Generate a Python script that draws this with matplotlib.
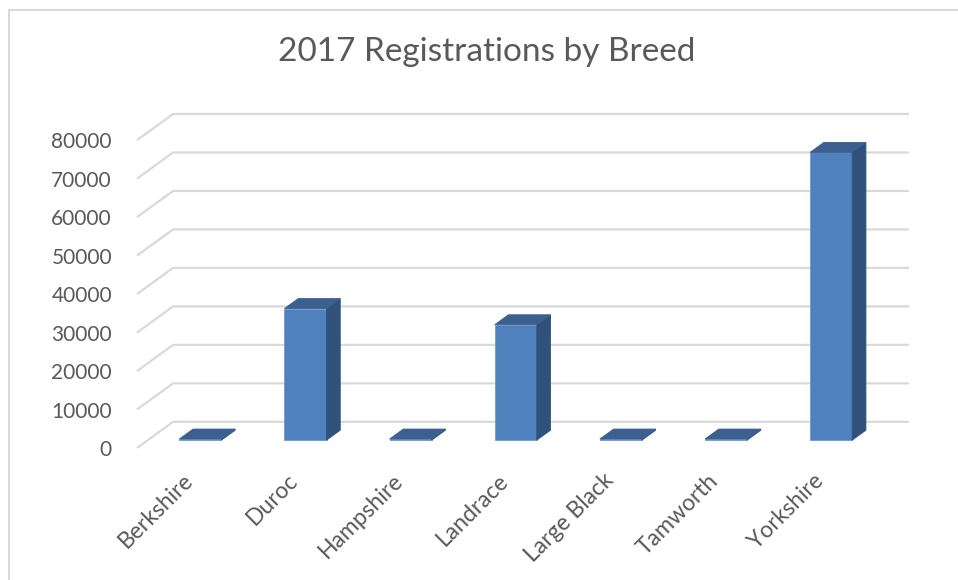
import matplotlib
matplotlib.use("Agg")
import matplotlib.pyplot as plt
from matplotlib.patches import Polygon
from matplotlib.lines import Line2D

# ---- data ----
breeds = ["Berkshire", "Duroc", "Hampshire", "Landrace", "Large Black", "Tamworth", "Yorkshire"]
registrations = [300, 34200, 300, 30000, 300, 300, 74800]
y_ticks = [0, 10000, 20000, 30000, 40000, 50000, 60000, 70000, 80000]
title = "2017 Registrations by Breed"

# ---- style ----
plt.rcParams['font.family'] = ['Lato', 'DejaVu Sans']
text_color = "#595959"
grid_color = "#D9D9D9"
front_color = "#4F81BD"
side_color = "#30527A"
top_color = "#3B5F8E"

fig = plt.figure(figsize=(9.58, 5.8), dpi=100)
fig.patch.set_facecolor("white")

# chart border (light gray, cropped on right/bottom)
fig.add_artist(Line2D([8.5/958, 8.5/958], [0, 1 - 9.5/580], transform=fig.transFigure,
                      color=grid_color, lw=1.5))
fig.add_artist(Line2D([8.5/958, 1], [1 - 9.5/580, 1 - 9.5/580], transform=fig.transFigure,
                      color=grid_color, lw=1.5))

ax = fig.add_axes([137/958, 1 - 448/580, 772/958, 334/580])

# depth vector of the 3D floor (category units, value units)
DX, DY = 0.343, 6800
ax.set_xlim(-0.5, len(breeds) - 0.5 + DX)
ax.set_ylim(0, y_ticks[-1] + DY)

for s in ax.spines.values():
    s.set_visible(False)

# gridlines: slanted left wall edge + back wall horizontal
xmax = len(breeds) - 0.5 + DX
for v in y_ticks:
    ax.plot([-0.5, -0.5 + DX, xmax], [v, v + DY, v + DY], color=grid_color, lw=1.6,
            zorder=1, clip_on=False, solid_capstyle='butt')

# 3D-looking bars
w = 0.40
f0, f1 = 0.30, 0.68
for i, v in enumerate(registrations):
    xl = i - w / 2
    xr = i + w / 2
    front = [(xl + f0*DX, f0*DY), (xr + f0*DX, f0*DY), (xr + f0*DX, v + f0*DY), (xl + f0*DX, v + f0*DY)]
    side = [(xr + f0*DX, f0*DY), (xr + f1*DX, f1*DY), (xr + f1*DX, v + f1*DY), (xr + f0*DX, v + f0*DY)]
    top = [(xl + f0*DX, v + f0*DY), (xr + f0*DX, v + f0*DY), (xr + f1*DX, v + f1*DY), (xl + f1*DX, v + f1*DY)]
    ax.add_patch(Polygon(front, closed=True, facecolor=front_color, edgecolor="#6F9AD0", lw=0.6, zorder=3))
    ax.add_patch(Polygon(side, closed=True, facecolor=side_color, edgecolor=side_color, lw=0.6, zorder=3))
    ax.add_patch(Polygon(top, closed=True, facecolor=top_color, edgecolor=top_color, lw=0.6, zorder=3))

ax.set_yticks(y_ticks)
ax.set_yticklabels([str(t) for t in y_ticks])
ax.tick_params(axis='y', length=0, pad=18, labelsize=15, labelcolor=text_color)

ax.set_xticks(range(len(breeds)))
ax.set_xticklabels(breeds, rotation=45, ha='right', va='center', rotation_mode='anchor')
ax.tick_params(axis='x', length=0, pad=21, labelsize=16.5, labelcolor=text_color)

fig.text(487/958, 1 - 52/580, title, ha='center', va='center', fontsize=24, color=text_color)

fig.savefig("out.png", dpi=100)
